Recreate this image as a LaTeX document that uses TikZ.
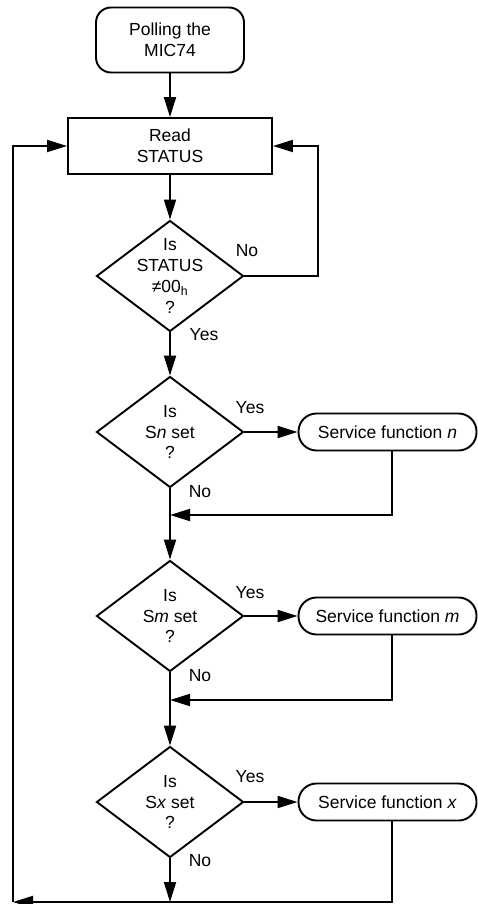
\documentclass[tikz,border=0pt]{standalone}
\usepackage{fontspec}
\setmainfont{Liberation Sans}
\usetikzlibrary{shapes.geometric,arrows.meta}

\begin{document}
\begin{tikzpicture}[x=1pt,y=-1pt,line width=1.9pt,
  every node/.style={font=\fontsize{17.5}{20.7}\selectfont,align=center},
  term/.style={draw,rounded corners=15pt,minimum width=148pt,minimum height=65pt,inner sep=0pt},
  proc/.style={draw,minimum width=204pt,minimum height=56pt,inner sep=0pt},
  dec/.style={draw,diamond,minimum width=147pt,minimum height=111pt,inner sep=0pt},
  svc/.style={draw,rounded corners=18pt,minimum width=178pt,minimum height=37pt,inner sep=0pt},
  arr/.style={-{Triangle[length=20pt,width=12pt]}}]
	\useasboundingbox (0,0) rectangle (478,904);

	\node [term] (start) at (170,40) {Polling the\\MIC74};
	\node [proc] (read) at (170,146) {Read\\STATUS};

	\node [dec] (d1) at (170,276) {};
	\node (t1) at (d1) {Is\\STATUS\\≠00\textsubscript{h}\\?};

	\node [dec] (dn) at (170,432) {};
	\node (tn) at (dn) {Is\\S\textit{n} set\\?};
	\node [svc] (svcn) at (387.5,432) {Service function \textit{n}};

	\node [dec] (dm) at (170,616) {};
	\node (tm) at (dm) {Is\\S\textit{m} set\\?};
	\node [svc] (svcm) at (387.5,616) {Service function \textit{m}};

	\node [dec] (dx) at (170,802) {};
	\node (tx) at (dx) {Is\\S\textit{x} set\\?};
	\node [svc] (svcx) at (387.5,802) {Service function \textit{x}};

	\coordinate (noloop) at (318,146);
	\coordinate (jn) at (170,515);
	\coordinate (jm) at (170,700);
	\coordinate (bot) at (170,902);
	\coordinate (bl) at (13,902);
	\coordinate (tl) at (13,146);

	\draw [arr] (start) -- (read);
	\draw [arr] (read) -- (d1);
	\draw [arr] (d1.east) -| (noloop) -- (read.east);
	\draw [arr] (d1) -- (dn);

	\draw [arr] (dn) -- (svcn);
	\draw [arr] ([xshift=4.5pt]svcn.south) |- (jn);
	\draw [arr] (dn) -- (dm);

	\draw [arr] (dm) -- (svcm);
	\draw [arr] ([xshift=4.5pt]svcm.south) |- (jm);
	\draw [arr] (dm) -- (dx);

	\draw [arr] (dx) -- (svcx);
	\draw [arr] (dx) -- (bot);
	\draw [arr] ([xshift=4.5pt]svcx.south) |- (bl);
	\draw [arr] (bl) -- (tl) -- (read.west);

	\node (no1) at (247,251) {No};
	\node (yes1) at (204,335) {Yes};
	\node (yesn) at (250,408) {Yes};
	\node (non) at (200,492) {No};
	\node (yesm) at (250,593) {Yes};
	\node (nom) at (200,676) {No};
	\node (yesx) at (250,777) {Yes};
	\node (nox) at (200,861) {No};
\end{tikzpicture}
\end{document}
